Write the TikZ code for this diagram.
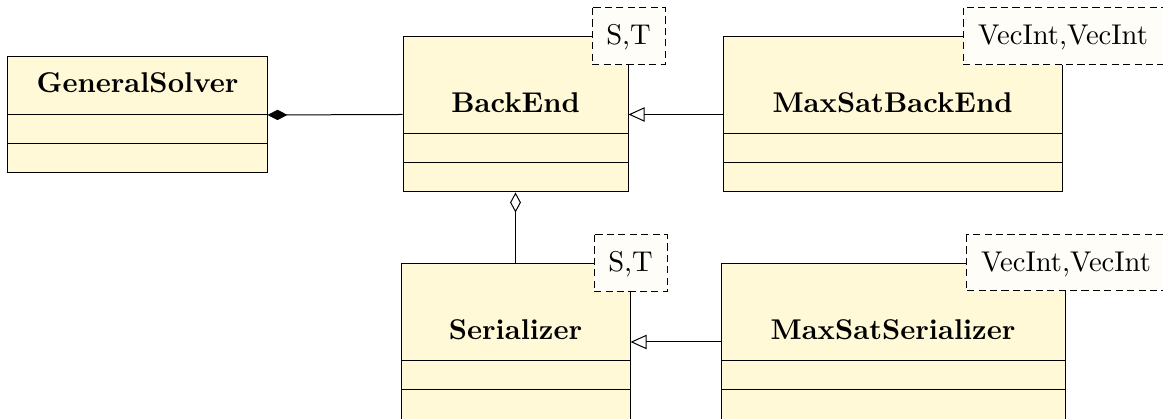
\documentclass[tikz,border=0pt]{standalone}
\usetikzlibrary{arrows.meta}
\definecolor{classfill}{RGB}{255,249,215}
\definecolor{tplfill}{RGB}{255,253,248}
\begin{document}
\begin{tikzpicture}[x=0.35pt,y=-0.35pt,
  umlclass/.style={draw=black, fill=classfill, line width=0.35pt, rectangle, inner sep=0pt},
  classname/.style={font=\bfseries, anchor=base, inner sep=0pt},
  tplbox/.style={draw=black, fill=tplfill, dash pattern=on 2.5pt off 1.5pt, line width=0.35pt},
  tpltext/.style={anchor=base, inner sep=0pt},
  compart/.style={draw=black, line width=0.35pt},
  conn/.style={draw=black, line width=0.35pt},
  composition/.style={conn, {Diamond[length=7pt,width=3.6pt]}-},
  aggregation/.style={conn, {Diamond[open,length=7pt,width=3.8pt]}-},
  inherit/.style={conn, -{Triangle[open,length=5.6pt,width=5pt]}}
]
\useasboundingbox (0,0) rectangle (1163,419);
\begin{scope}
\clip (0,0) rectangle (1163,419);

% GeneralSolver
\node[umlclass, minimum width=259*0.35pt, minimum height=116*0.35pt] (gs) at (137.5,115) {};
\node[classname] (gsname) at (137.5,93) {GeneralSolver};
\draw[compart] (8,115) -- (267,115);
\draw[compart] (8,144) -- (267,144);

% BackEnd
\node[umlclass, minimum width=225*0.35pt, minimum height=155*0.35pt] (be) at (515.5,114.5) {};
\node[classname] (bename) at (515.5,113) {BackEnd};
\draw[compart] (403,134) -- (628,134);
\draw[compart] (403,163) -- (628,163);
\filldraw[tplbox] (592,8) rectangle (665,65);
\node[tpltext] (betpl) at (628.5,45) {S,T};

% MaxSatBackEnd
\node[umlclass, minimum width=339*0.35pt, minimum height=155*0.35pt] (mbe) at (892.5,114.5) {};
\node[classname] (mbename) at (892.5,113) {MaxSatBackEnd};
\draw[compart] (723,134) -- (1062,134);
\draw[compart] (723,163) -- (1062,163);
\filldraw[tplbox] (963,8) rectangle (1180,65);
\node[tpltext] (mbetpl) at (1063,45) {VecInt,VecInt};

% Serializer
\node[umlclass, minimum width=229*0.35pt, minimum height=156*0.35pt] (ser) at (515.5,342) {};
\node[classname] (sername) at (515.5,340) {Serializer};
\draw[compart] (401,361) -- (630,361);
\draw[compart] (401,390) -- (630,390);
\filldraw[tplbox] (594,235) rectangle (667,292);
\node[tpltext] (sertpl) at (630.5,272) {S,T};

% MaxSatSerializer
\node[umlclass, minimum width=344*0.35pt, minimum height=156*0.35pt] (msr) at (893,342) {};
\node[classname] (msrname) at (893,340) {MaxSatSerializer};
\draw[compart] (721,361) -- (1065,361);
\draw[compart] (721,390) -- (1065,390);
\filldraw[tplbox] (966,235) rectangle (1180,291);
\node[tpltext] (msrtpl) at (1066,272) {VecInt,VecInt};

% relations
\draw[composition] (gs.east) -- (be.west);
\draw[inherit] (mbe.west) -- (be.east);
\draw[aggregation] (be.south) -- (ser.north);
\draw[inherit] (msr.west) -- (ser.east);
\end{scope}
\end{tikzpicture}
\end{document}
